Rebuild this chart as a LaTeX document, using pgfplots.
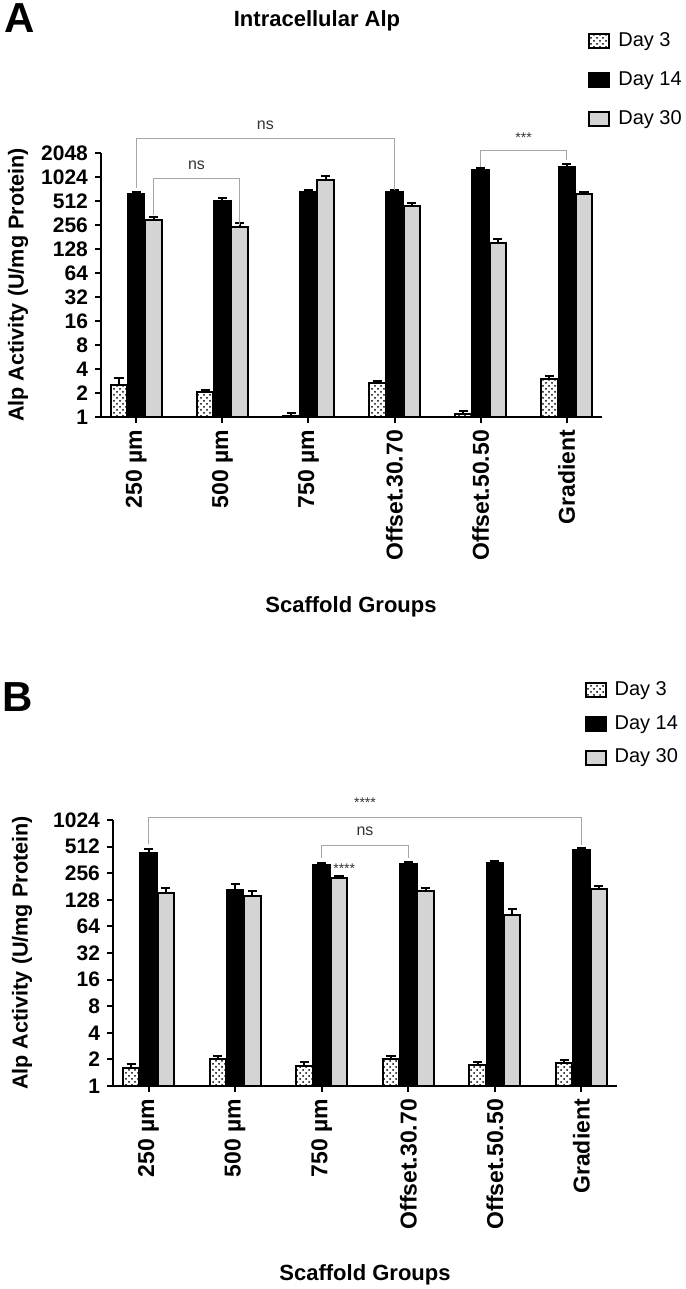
\documentclass[border=0pt]{standalone}
\usepackage{pgfplots}
\usepackage{pgfplotstable}
\pgfplotsset{compat=1.18}
\usetikzlibrary{patterns}
\usepackage{fontspec}
\setmainfont{Liberation Sans}

\pgfplotstableread{
g  d3    d3e   d14   d14e  d30  d30e
0  2.55  0.50  626   44    296  30
1  2.04  0.16  508   45    242  29
2  1.02  0.10  664   39    948  97
3  2.64  0.19  664   44    448  40
4  1.09  0.11  1243  72    152  19
5  3.03  0.20  1352  126   634  30
}\dataA

\pgfplotstableread{
g  d3    d3e   d14   d14e  d30  d30e
0  1.61  0.18  438   40    153  19
1  2.04  0.16  166   26    142  17
2  1.70  0.15  313   22    227  14
3  2.00  0.20  326   18    159  17
4  1.74  0.15  335   18    87   15
5  1.82  0.15  474   21    168  14
}\dataB

\pgfplotsset{
  boxlegend/.style={legend image code/.code={\draw[##1,line width=1pt] (0pt,-3.5pt) rectangle (10pt,3.5pt);}},
}

\begin{document}
\begin{tikzpicture}
\useasboundingbox (0,0) rectangle (342.5pt,644.5pt);

% ---------- Panel A ----------
\begin{semilogyaxis}[
  log basis y=2,
  scale only axis,
  width=250.5pt, height=132pt,
  ymin=1, ymax=2048,
  xmin=-0.41, xmax=5.41,
  axis x line=bottom, axis y line=left,
  axis line style={line width=1pt, -},
  xtick={0,1,2,3,4,5},
  xticklabels={250 µm, 500 µm, 750 µm, Offset.30.70, Offset.50.50, Gradient},
  xticklabel style={rotate=90, anchor=east, font=\fontsize{11.5}{13}\selectfont\bfseries},
  ytick={1,2,4,8,16,32,64,128,256,512,1024,2048},
  yticklabels={1,2,4,8,16,32,64,128,256,512,1024,2048},
  yticklabel style={font=\fontsize{10.5}{12}\selectfont\bfseries},
  tick style={line width=1pt, black},
  tick align=outside, major tick length=3pt,
  clip=false,
  legend cell align=left,
  legend style={draw=none, fill=none, font=\fontsize{10}{12}\selectfont,
    at={(0.960,1.487)}, anchor=north west, row sep=7pt,
    /tikz/every odd column/.append style={column sep=2pt}},
  at={(50.5pt,436pt)}, anchor=south west,
]
\addplot[ybar, bar width=0.19, bar shift=0, draw=black, line width=1pt, fill=white,
  postaction={pattern=crosshatch dots, pattern color=black}, boxlegend,
  error bars/.cd, y dir=plus, y explicit, error bar style={line width=1pt, black},
  error mark options={rotate=90, mark size=2.3pt, line width=1pt, black}]
  table[x expr=\thisrow{g}-0.2, y=d3, y error=d3e] {\dataA};
\addlegendentry{Day 3}
\addplot[ybar, bar width=0.19, bar shift=0, draw=black, line width=1pt, fill=black, boxlegend,
  error bars/.cd, y dir=plus, y explicit, error bar style={line width=1pt, black},
  error mark options={rotate=90, mark size=2.3pt, line width=1pt, black}]
  table[x=g, y=d14, y error=d14e] {\dataA};
\addlegendentry{Day 14}
\addplot[ybar, bar width=0.19, bar shift=0, draw=black, line width=1pt, fill=black!17, boxlegend,
  error bars/.cd, y dir=plus, y explicit, error bar style={line width=1pt, black},
  error mark options={rotate=90, mark size=2.3pt, line width=1pt, black}]
  table[x expr=\thisrow{g}+0.2, y=d30, y error=d30e] {\dataA};
\addlegendentry{Day 30}

\draw[gray!70, line width=0.5pt] (axis cs:0,745) |- (axis cs:3,3100) -- (axis cs:3,710);
\node[font=\fontsize{8}{9}\selectfont, text=black!80, anchor=south] at (axis cs:1.5,3250) {ns};
\draw[gray!70, line width=0.5pt] (axis cs:0.2,345) |- (axis cs:1.2,975) -- (axis cs:1.2,258);
\node[font=\fontsize{8}{9}\selectfont, text=black!80, anchor=south] at (axis cs:0.7,1030) {ns};
\draw[gray!70, line width=0.5pt] (axis cs:4,1351) |- (axis cs:5,2170) -- (axis cs:5,1688);
\node[font=\fontsize{7}{8}\selectfont, text=black!80, anchor=south] at (axis cs:4.5,2250) {***};
\end{semilogyaxis}

\node[font=\fontsize{21}{24}\selectfont\bfseries] at (10pt,635.5pt) {A};
\node[font=\fontsize{11}{13}\selectfont\bfseries] at (158.5pt,634pt) {Intracellular Alp};
\node[font=\fontsize{10.8}{12}\selectfont\bfseries, rotate=90] at (9pt,502pt) {Alp Activity (U/mg Protein)};
\node[font=\fontsize{11}{13}\selectfont\bfseries] at (175.5pt,341pt) {Scaffold Groups};

% ---------- Panel B ----------
\begin{semilogyaxis}[
  log basis y=2,
  scale only axis,
  width=252pt, height=133pt,
  ymin=1, ymax=1024,
  xmin=-0.41, xmax=5.41,
  axis x line=bottom, axis y line=left,
  axis line style={line width=1pt, -},
  xtick={0,1,2,3,4,5},
  xticklabels={250 µm, 500 µm, 750 µm, Offset.30.70, Offset.50.50, Gradient},
  xticklabel style={rotate=90, anchor=east, font=\fontsize{11.5}{13}\selectfont\bfseries},
  ytick={1,2,4,8,16,32,64,128,256,512,1024},
  yticklabels={1,2,4,8,16,32,64,128,256,512,1024},
  yticklabel style={font=\fontsize{10.5}{12}\selectfont\bfseries},
  tick style={line width=1pt, black},
  tick align=outside, major tick length=3pt,
  clip=false,
  legend cell align=left,
  legend style={draw=none, fill=none, font=\fontsize{10}{12}\selectfont,
    at={(0.923,1.553)}, anchor=north west, row sep=4.5pt,
    /tikz/every odd column/.append style={column sep=2pt}},
  at={(56.5pt,101.5pt)}, anchor=south west,
]
\addplot[ybar, bar width=0.19, bar shift=0, draw=black, line width=1pt, fill=white,
  postaction={pattern=crosshatch dots, pattern color=black}, boxlegend,
  error bars/.cd, y dir=plus, y explicit, error bar style={line width=1pt, black},
  error mark options={rotate=90, mark size=2.3pt, line width=1pt, black}]
  table[x expr=\thisrow{g}-0.2, y=d3, y error=d3e] {\dataB};
\addlegendentry{Day 3}
\addplot[ybar, bar width=0.19, bar shift=0, draw=black, line width=1pt, fill=black, boxlegend,
  error bars/.cd, y dir=plus, y explicit, error bar style={line width=1pt, black},
  error mark options={rotate=90, mark size=2.3pt, line width=1pt, black}]
  table[x=g, y=d14, y error=d14e] {\dataB};
\addlegendentry{Day 14}
\addplot[ybar, bar width=0.19, bar shift=0, draw=black, line width=1pt, fill=black!17, boxlegend,
  error bars/.cd, y dir=plus, y explicit, error bar style={line width=1pt, black},
  error mark options={rotate=90, mark size=2.3pt, line width=1pt, black}]
  table[x expr=\thisrow{g}+0.2, y=d30, y error=d30e] {\dataB};
\addlegendentry{Day 30}

\draw[gray!70, line width=0.5pt] (axis cs:0,545) |- (axis cs:5,1105) -- (axis cs:5,534);
\node[font=\fontsize{7}{8}\selectfont, text=black!80, anchor=south] at (axis cs:2.5,1190) {****};
\draw[gray!70, line width=0.5pt] (axis cs:2,385) |- (axis cs:3,530) -- (axis cs:3,385);
\node[font=\fontsize{8}{9}\selectfont, text=black!80, anchor=south] at (axis cs:2.5,560) {ns};
\node[font=\fontsize{7}{8}\selectfont, text=black!80] at (axis cs:2.26,286) {****};
\end{semilogyaxis}

\node[font=\fontsize{21}{24}\selectfont\bfseries] at (9pt,296pt) {B};
\node[font=\fontsize{10.8}{12}\selectfont\bfseries, rotate=90] at (11pt,168pt) {Alp Activity (U/mg Protein)};
\node[font=\fontsize{11}{13}\selectfont\bfseries] at (182.5pt,7pt) {Scaffold Groups};
\end{tikzpicture}
\end{document}
